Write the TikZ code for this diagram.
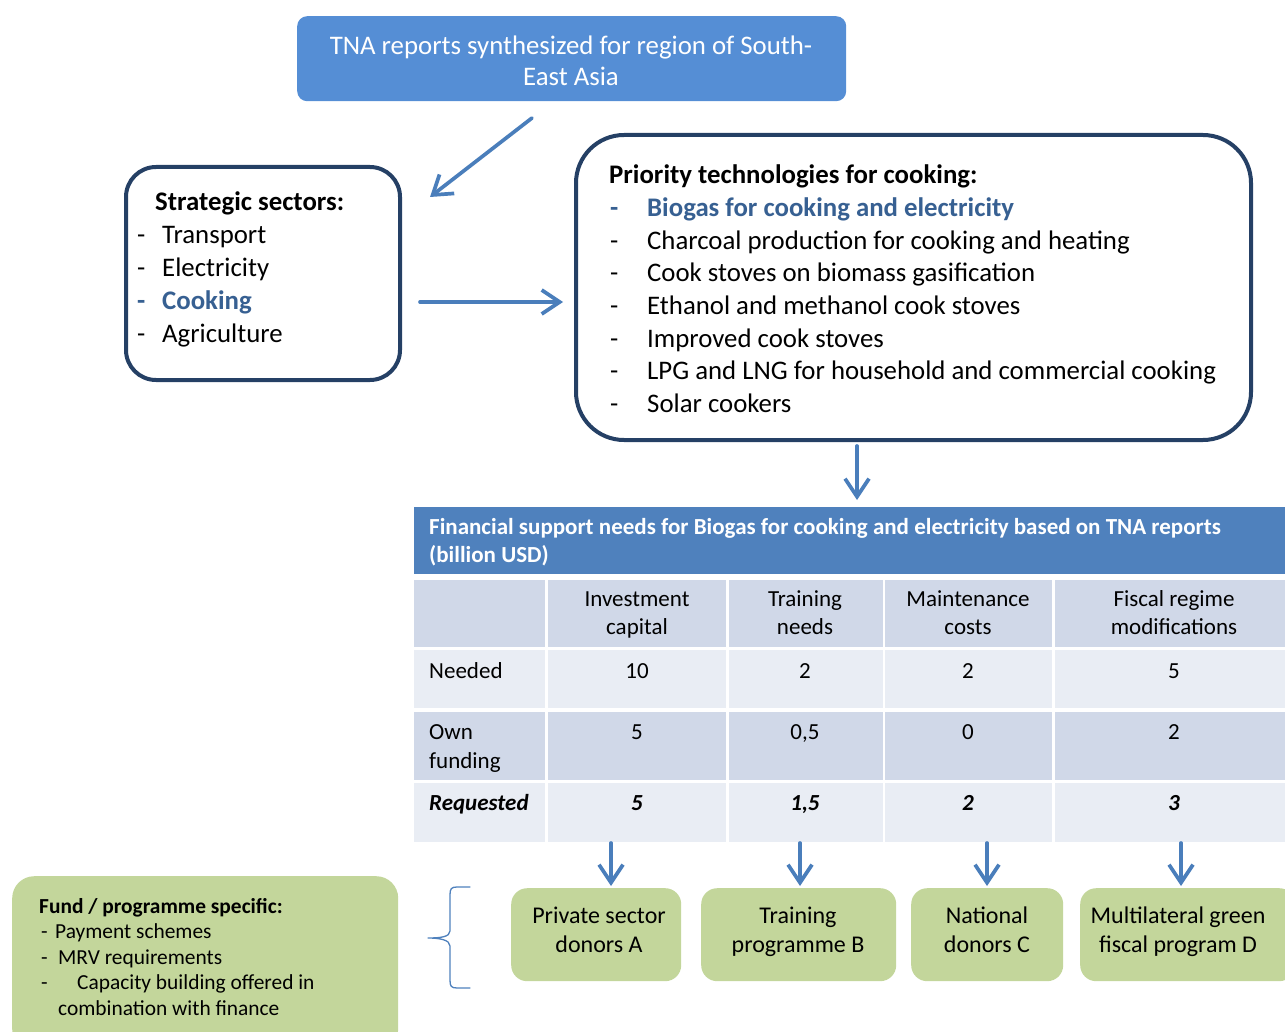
\documentclass[tikz,border=0pt]{standalone}
\usepackage{fontspec}
\setmainfont{Carlito}
\usepackage{tikz}
\usetikzlibrary{arrows.meta}
\definecolor{tnablue}{rgb}{0.333,0.557,0.835}
\definecolor{arrblue}{rgb}{0.290,0.494,0.733}
\definecolor{navy}{rgb}{0.145,0.251,0.396}
\definecolor{txtblue}{rgb}{0.216,0.376,0.573}
\definecolor{hdblue}{rgb}{0.310,0.506,0.741}
\definecolor{rowdark}{rgb}{0.816,0.847,0.910}
\definecolor{rowlight}{rgb}{0.914,0.929,0.957}
\definecolor{donorgreen}{rgb}{0.765,0.839,0.608}
\tikzset{
  arr/.style={-{Straight Barb[length=18pt,width=24pt]},draw=arrblue,line width=3.7pt},
  frame/.style={draw=navy,line width=4pt,fill=white,anchor=north west,inner sep=0pt},
  donor/.style={fill=donorgreen,rounded corners=16pt,anchor=north west,inner sep=0pt,minimum height=93pt},
  big/.style={anchor=base west,inner sep=0pt,font=\fontsize{26.8}{32}\selectfont},
  hi/.style={text=txtblue,font=\fontsize{26.8}{32}\selectfont\bfseries},
  tab/.style={anchor=base,inner sep=0pt,font=\fontsize{23}{28}\selectfont},
  small/.style={anchor=base west,inner sep=0pt,font=\fontsize{21.4}{26}\selectfont},
}
\begin{document}
\begin{tikzpicture}[line cap=round,line join=round,x=1pt,y=-1pt]
\useasboundingbox (0,0) rectangle (1285,1032);
% top box
\node[fill=tnablue,rounded corners=10pt,anchor=north west,inner sep=0pt,minimum width=549pt,minimum height=85pt] (tna) at (297,16) {};
\node[anchor=base,inner sep=0pt,text=white,font=\fontsize{26.8}{32}\selectfont] (tna1) at (571,55) {TNA reports synthesized for region of South-};
\node[anchor=base,inner sep=0pt,text=white,font=\fontsize{26.8}{32}\selectfont] (tna2) at (571,86) {East Asia};
% strategic sectors
\node[frame,rounded corners=30pt,minimum width=274pt,minimum height=213pt] (sectors) at (124,165) {};
\node[big,font=\fontsize{26.8}{32}\selectfont\bfseries] (sectitle) at (155,211) {Strategic sectors:};
\foreach \name/\st [count=\i] in {Transport/,Electricity/,Cooking/hi,Agriculture/}{
  \node[big,\st] (secd\i) at (137,{211+32.8*\i}) {-};
  \node[big,\st] (sec\i) at (162,{211+32.8*\i}) {\name};
}
% priority technologies
\node[frame,rounded corners=48pt,minimum width=675pt,minimum height=305pt] (tech) at (574,133) {};
\node[big,font=\fontsize{26.8}{32}\selectfont\bfseries] (techtitle) at (609,184) {Priority technologies for cooking:};
\foreach \name/\st [count=\i] in {Biogas for cooking and electricity/hi,
    Charcoal production for cooking and heating/,
    Cook stoves on biomass gasification/,
    Ethanol and methanol cook stoves/,
    Improved cook stoves/,
    LPG and LNG for household and commercial cooking/,
    Solar cookers/}{
  \node[big,\st] (techd\i) at (610,{184+32.6*\i}) {-};
  \node[big,\st] (tech\i) at (647,{184+32.6*\i}) {\name};
}
% arrows between boxes
\coordinate (d1) at (532,118);
\coordinate (d2) at (430,197);
\draw[arr] (d1) -- (d2);
\coordinate (r1) at (420,302);
\coordinate (r2) at (563,302);
\draw[arr] (r1) -- (r2);
% table
\node[fill=hdblue,anchor=north west,inner sep=0pt,minimum width=880pt,minimum height=67pt] (fin) at (414,507) {};
\coordinate (t1) at (857,446);
\draw[arr] (t1) -- ([yshift=7pt]t1 |- fin.north);
\foreach \ya/\yb/\col in {580/647/rowdark,650/708/rowlight,712/780/rowdark,783/842/rowlight}
  \foreach \xa/\xb in {414/545,548/726,729/883,885/1052,1055/1295}
    \fill[\col] (\xa,\ya) rectangle (\xb,\yb);
\node[anchor=base west,inner sep=0pt,text=white,font=\fontsize{23}{28}\selectfont\bfseries] (fin1) at (429,534) {Financial support needs for Biogas for cooking and electricity based on TNA reports};
\node[anchor=base west,inner sep=0pt,text=white,font=\fontsize{23}{28}\selectfont\bfseries] (fin2) at (429,562) {(billion USD)};
\foreach \cx/\la/\lb [count=\i] in {637/Investment/capital,805/Training/needs,968/Maintenance/costs,1174/Fiscal regime/modifications}{
  \node[tab] (colA\i) at (\cx,606) {\la};
  \node[tab] (colB\i) at (\cx,634) {\lb};
}
\node[tab,anchor=base west] (rowneed) at (429,678) {Needed};
\node[tab,anchor=base west] (rowown) at (429,739) {Own};
\node[tab,anchor=base west] (rowfund) at (429,768) {funding};
\node[tab,anchor=base west,font=\fontsize{23}{28}\selectfont\bfseries\itshape] (rowreq) at (429,810) {Requested};
\foreach \cx/\a/\b/\c [count=\i] in {637/10/5/5,805/2/{0,5}/{1,5},968/2/0/2,1174/5/2/3}{
  \node[tab] (need\i) at (\cx,678) {\a};
  \node[tab] (own\i) at (\cx,739) {\b};
  \node[tab,font=\fontsize{23}{28}\selectfont\bfseries\itshape] (req\i) at (\cx,810) {\c};
}
% donors
\foreach \xa/\w/\cx/\la/\lb/\ax [count=\i] in {511/170/599/Private sector/donors A/611,
    701/195/798/Training/programme B/800,
    911/152/987/National/donors C/987,
    1080/215/1178/Multilateral green/fiscal program D/1181}{
  \node[donor,minimum width=\w pt] (don\i) at (\xa,888) {};
  \node[anchor=base,inner sep=0pt,font=\fontsize{24}{29}\selectfont] (donA\i) at (\cx,923) {\la};
  \node[anchor=base,inner sep=0pt,font=\fontsize{24}{29}\selectfont] (donB\i) at (\cx,952) {\lb};
  \coordinate (top\i) at (\ax,843);
  \draw[arr] (top\i) -- ([yshift=2pt]top\i |- don\i.north);
}
% fund specific
\node[donor,rounded corners=22pt,minimum width=386pt,minimum height=175pt] (fund) at (12,876) {};
\node[small,font=\fontsize{21.4}{26}\selectfont\bfseries] (fundtitle) at (39,913) {Fund / programme specific:};
\node[small] (fundd1) at (41,938) {-};
\node[small] (fund1) at (55,938) {Payment schemes};
\node[small] (fundd2) at (41,964) {-};
\node[small] (fund2) at (58,964) {MRV requirements};
\node[small] (fundd3) at (41,989) {-};
\node[small] (fund3) at (77,989) {Capacity building offered in};
\node[small] (fund4) at (58,1015) {combination with finance};
% brace
\draw[draw=hdblue,line width=1.3pt] (470,887) -- (457,887) .. controls (451,887) and (450,889) .. (450,895)
  -- (450,931) .. controls (450,937) and (440,938) .. (428,938)
  .. controls (440,938) and (450,940) .. (450,946) -- (450,980)
  .. controls (450,986) and (451,988) .. (457,988) -- (470,988);
\end{tikzpicture}
\end{document}
